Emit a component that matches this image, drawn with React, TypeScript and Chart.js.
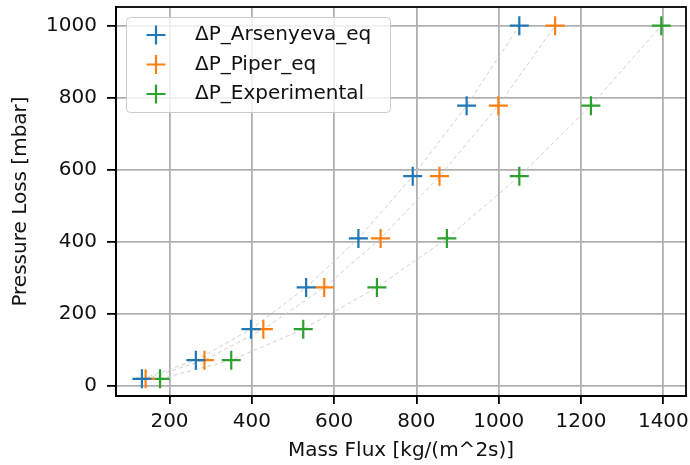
import React, { useEffect, useRef } from "react";
import { Chart, registerables } from "chart.js";

Chart.register(...registerables);

// ---- Data ----
const pressureLoss = [19, 71, 157, 273, 409, 582, 778, 1000];
const arsenyevaFlux = [133, 264, 398, 532, 659, 791, 922, 1050];
const piperFlux = [142, 285, 428, 576, 713, 856, 999, 1137];
const experimentalFlux = [177, 350, 525, 704, 874, 1050, 1224, 1395];
const seriesNames = ["ΔP_Arsenyeva_eq", "ΔP_Piper_eq", "ΔP_Experimental"];
const seriesColors = ["#1f77b4", "#ff7f0e", "#2ca02c"];
const xTicks = [200, 400, 600, 800, 1000, 1200, 1400];
const yTicks = [0, 200, 400, 600, 800, 1000];
const xTitle = "Mass Flux [kg/(m^2s)]";
const yTitle = "Pressure Loss [mbar]";

const FONT = "'DejaVu Sans', sans-serif";

const frameAndLegend = {
  id: "frameAndLegend",
  afterDraw(chart: any) {
    const { ctx, chartArea } = chart;
    ctx.save();
    // full frame
    ctx.strokeStyle = "#000";
    ctx.lineWidth = 1.8;
    ctx.strokeRect(chartArea.left, chartArea.top, chartArea.right - chartArea.left, chartArea.bottom - chartArea.top);

    // legend box
    const bx = 126.5, by = 17.5, bw = 264, bh = 95, r = 4;
    ctx.beginPath();
    ctx.moveTo(bx + r, by);
    ctx.lineTo(bx + bw - r, by);
    ctx.arcTo(bx + bw, by, bx + bw, by + r, r);
    ctx.lineTo(bx + bw, by + bh - r);
    ctx.arcTo(bx + bw, by + bh, bx + bw - r, by + bh, r);
    ctx.lineTo(bx + r, by + bh);
    ctx.arcTo(bx, by + bh, bx, by + bh - r, r);
    ctx.lineTo(bx, by + r);
    ctx.arcTo(bx, by, bx + r, by, r);
    ctx.closePath();
    ctx.fillStyle = "rgba(255,255,255,0.8)";
    ctx.fill();
    ctx.strokeStyle = "#cccccc";
    ctx.lineWidth = 1;
    ctx.stroke();

    const rows = [35, 64.5, 94];
    ctx.font = `20px ${FONT}`;
    ctx.textBaseline = "middle";
    ctx.textAlign = "left";
    seriesNames.forEach((name, i) => {
      const cx = 156, cy = rows[i], rr = 9.5;
      ctx.strokeStyle = seriesColors[i];
      ctx.lineWidth = 2.2;
      ctx.beginPath();
      ctx.moveTo(cx - rr, cy);
      ctx.lineTo(cx + rr, cy);
      ctx.moveTo(cx, cy - rr);
      ctx.lineTo(cx, cy + rr);
      ctx.stroke();
      ctx.fillStyle = "#111";
      ctx.fillText(name, 195, cy);
    });
    ctx.restore();
  },
};

export default function App() {
  const ref = useRef<HTMLCanvasElement | null>(null);

  useEffect(() => {
    if (!ref.current) return;
    const fluxes = [arsenyevaFlux, piperFlux, experimentalFlux];
    const lineSets = fluxes.map((f, i) => ({
      label: seriesNames[i] + " line",
      data: f.map((x, j) => ({ x, y: pressureLoss[j] })),
      showLine: true,
      borderColor: "#d0d0d0",
      borderWidth: 1,
      borderDash: [4, 3],
      pointRadius: 0,
      order: 2,
    }));
    const pointSets = fluxes.map((f, i) => ({
      label: seriesNames[i],
      data: f.map((x, j) => ({ x, y: pressureLoss[j] })),
      showLine: false,
      pointStyle: "cross",
      pointRadius: 9.5,
      pointBorderWidth: 2.2,
      pointBorderColor: seriesColors[i],
      pointBackgroundColor: seriesColors[i],
      borderColor: seriesColors[i],
      order: 1,
    }));

    const chart = new Chart(ref.current, {
      type: "scatter",
      data: { datasets: [...lineSets, ...pointSets] as any },
      options: {
        animation: false,
        responsive: false,
        devicePixelRatio: 1,
        layout: { autoPadding: false, padding: { top: 7, right: 4, left: 0, bottom: 0 } },
        plugins: { legend: { display: false }, tooltip: { enabled: false } },
        scales: {
          x: {
            type: "linear",
            min: 70,
            max: 1455,
            afterBuildTicks: (s: any) => {
              s.ticks = xTicks.map((v) => ({ value: v }));
            },
            afterFit: (s: any) => {
              s.height = 69;
              s.paddingLeft = 0;
              s.paddingRight = 0;
            },
            grid: { color: "#b0b0b0", lineWidth: 1.8, tickColor: "#000", tickLength: 8, tickWidth: 1.8 },
            border: { display: true, color: "#000", width: 1.8 },
            ticks: {
              font: { family: FONT, size: 20 },
              color: "#111",
              padding: 6,
              maxRotation: 0,
              autoSkip: false,
              callback: (v: any) => String(v),
            },
            title: { display: true, text: xTitle, font: { family: FONT, size: 20 }, color: "#111", padding: { top: 0, bottom: 2 } },
          },
          y: {
            type: "linear",
            min: -28.6,
            max: 1052,
            afterBuildTicks: (s: any) => {
              s.ticks = yTicks.map((v) => ({ value: v }));
            },
            afterFit: (s: any) => {
              s.width = 116;
              s.paddingTop = 0;
              s.paddingBottom = 0;
            },
            grid: { color: "#b0b0b0", lineWidth: 1.8, tickColor: "#000", tickLength: 9, tickWidth: 1.8 },
            border: { display: true, color: "#000", width: 1.8 },
            ticks: {
              font: { family: FONT, size: 20 },
              color: "#111",
              padding: 10,
              autoSkip: false,
              callback: (v: any) => String(v),
            },
            title: { display: true, text: yTitle, font: { family: FONT, size: 20 }, color: "#111", padding: { top: 9, bottom: 0 } },
          },
        },
      },
      plugins: [frameAndLegend],
    });
    return () => chart.destroy();
  }, []);

  return (
    <div style={{ position: "fixed", left: 0, top: 0, width: 690, height: 465, background: "#fff" }}>
      <canvas ref={ref} width={690} height={465} style={{ width: 690, height: 465, display: "block" }} />
    </div>
  );
}
